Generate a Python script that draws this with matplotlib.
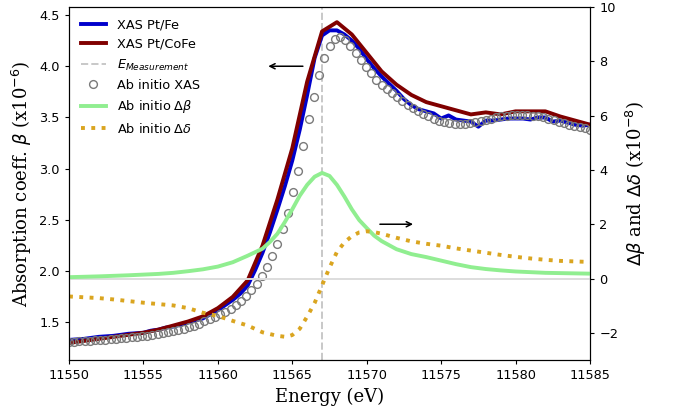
import matplotlib
matplotlib.use("Agg")
import matplotlib.pyplot as plt
import numpy as np

# ---------------- data ----------------
e_meas = 11567.0

fe_energy = [11550, 11551, 11552, 11553, 11554, 11555, 11555.5, 11556, 11556.5, 11557,
             11557.5, 11558, 11558.5, 11559, 11559.5, 11560, 11560.5, 11561, 11561.5, 11562,
             11562.5, 11563, 11563.5, 11564, 11564.5, 11565, 11565.5, 11566, 11566.5, 11567,
             11567.5, 11568, 11568.5, 11569, 11569.5, 11570, 11570.5, 11571, 11571.5, 11572,
             11572.5, 11573, 11573.5, 11574, 11574.5, 11575, 11575.5, 11576, 11576.5, 11577,
             11577.5, 11578, 11578.5, 11579, 11579.5, 11580, 11580.5, 11581, 11581.5, 11582,
             11582.5, 11583, 11583.5, 11584, 11584.5, 11585]
fe_beta = [1.33, 1.34, 1.36, 1.37, 1.39, 1.40, 1.42, 1.43, 1.45, 1.46,
           1.48, 1.50, 1.52, 1.54, 1.58, 1.62, 1.67, 1.72, 1.78, 1.86,
           2.01, 2.18, 2.38, 2.60, 2.83, 3.08, 3.38, 3.72, 4.08, 4.30,
           4.35, 4.35, 4.31, 4.25, 4.17, 4.07, 3.98, 3.90, 3.83, 3.76,
           3.68, 3.62, 3.58, 3.56, 3.54, 3.49, 3.52, 3.48, 3.47, 3.46,
           3.41, 3.47, 3.47, 3.48, 3.49, 3.49, 3.49, 3.48, 3.50, 3.50,
           3.46, 3.47, 3.45, 3.43, 3.42, 3.43]

cofe_energy = [11550, 11551, 11552, 11553, 11554, 11555, 11556, 11557, 11558, 11559,
               11560, 11561, 11562, 11563, 11564, 11565, 11566, 11567, 11568, 11569,
               11570, 11571, 11572, 11573, 11574, 11575, 11576, 11577, 11578, 11579,
               11580, 11581, 11582, 11583, 11584, 11585]
cofe_beta = [1.30, 1.32, 1.34, 1.36, 1.38, 1.40, 1.43, 1.47, 1.51, 1.56,
             1.64, 1.75, 1.91, 2.25, 2.70, 3.20, 3.85, 4.34, 4.43, 4.31,
             4.13, 3.95, 3.82, 3.72, 3.65, 3.61, 3.57, 3.53, 3.55, 3.53,
             3.56, 3.56, 3.56, 3.51, 3.47, 3.43]

abin_energy = [11550.00, 11550.35, 11550.70, 11551.05, 11551.40, 11551.75, 11552.10, 11552.45,
               11552.80, 11553.15, 11553.50, 11553.85, 11554.20, 11554.55, 11554.90, 11555.25,
               11555.60, 11555.95, 11556.30, 11556.65, 11557.00, 11557.35, 11557.70, 11558.05,
               11558.40, 11558.75, 11559.10, 11559.45, 11559.80, 11560.15, 11560.50, 11560.85,
               11561.20, 11561.55, 11561.90, 11562.25, 11562.60, 11562.95, 11563.30, 11563.65,
               11564.00, 11564.35, 11564.70, 11565.05, 11565.40, 11565.75, 11566.10, 11566.45,
               11566.80, 11567.15, 11567.50, 11567.85, 11568.20, 11568.55, 11568.90, 11569.25,
               11569.60, 11569.95, 11570.30, 11570.65, 11571.00, 11571.35, 11571.70, 11572.05,
               11572.40, 11572.75, 11573.10, 11573.45, 11573.80, 11574.15, 11574.50, 11574.85,
               11575.20, 11575.55, 11575.90, 11576.25, 11576.60, 11576.95, 11577.30, 11577.65,
               11578.00, 11578.35, 11578.70, 11579.05, 11579.40, 11579.75, 11580.10, 11580.45,
               11580.80, 11581.15, 11581.50, 11581.85, 11582.20, 11582.55, 11582.90, 11583.25,
               11583.60, 11583.95, 11584.30, 11584.65, 11585.00]
abin_beta = [1.31, 1.31, 1.32, 1.32, 1.32, 1.33, 1.33, 1.33,
             1.34, 1.34, 1.35, 1.35, 1.36, 1.36, 1.37, 1.37,
             1.38, 1.39, 1.40, 1.41, 1.42, 1.43, 1.44, 1.46,
             1.47, 1.49, 1.51, 1.53, 1.55, 1.58, 1.60, 1.63,
             1.67, 1.71, 1.76, 1.82, 1.88, 1.95, 2.04, 2.15,
             2.27, 2.41, 2.57, 2.77, 2.98, 3.22, 3.49, 3.70,
             3.91, 4.08, 4.20, 4.27, 4.29, 4.26, 4.20, 4.13,
             4.06, 3.99, 3.93, 3.87, 3.82, 3.78, 3.74, 3.70,
             3.66, 3.62, 3.59, 3.56, 3.53, 3.51, 3.49, 3.47,
             3.46, 3.45, 3.44, 3.44, 3.44, 3.45, 3.46, 3.47,
             3.48, 3.49, 3.50, 3.51, 3.51, 3.52, 3.52, 3.52,
             3.52, 3.51, 3.51, 3.50, 3.49, 3.48, 3.46, 3.45,
             3.43, 3.42, 3.41, 3.40, 3.38]

dbeta_energy = [11550, 11552, 11554, 11556, 11557, 11558, 11559, 11560, 11561, 11562,
                11563, 11563.5, 11564, 11564.5, 11565, 11565.5, 11566, 11566.5, 11567, 11567.5,
                11568, 11568.5, 11569, 11569.5, 11570, 11570.5, 11571, 11572, 11573, 11574,
                11575, 11576, 11577, 11578, 11579, 11580, 11582, 11585]
dbeta = [0.05, 0.08, 0.12, 0.17, 0.21, 0.27, 0.34, 0.44, 0.60, 0.84,
         1.10, 1.35, 1.65, 2.08, 2.55, 3.05, 3.45, 3.75, 3.89, 3.78,
         3.45, 3.02, 2.55, 2.15, 1.86, 1.58, 1.38, 1.08, 0.90, 0.79,
         0.66, 0.53, 0.42, 0.35, 0.30, 0.26, 0.21, 0.18]

ddelta_energy = [11550, 11551, 11552, 11553, 11554, 11555, 11556, 11557, 11558, 11559,
                 11560, 11561, 11562, 11563, 11564, 11564.6, 11565, 11565.5, 11566, 11566.5,
                 11567, 11567.5, 11568, 11568.5, 11569, 11569.5, 11570, 11570.5, 11571, 11572,
                 11573, 11574, 11575, 11576, 11577, 11578, 11579, 11580, 11581, 11582,
                 11583, 11584, 11585]
ddelta = [-0.66, -0.69, -0.72, -0.77, -0.83, -0.89, -0.94, -0.99, -1.09, -1.26,
          -1.38, -1.56, -1.73, -1.98, -2.11, -2.15, -2.08, -1.85, -1.40, -0.90,
          -0.25, 0.40, 0.98, 1.33, 1.56, 1.70, 1.74, 1.71, 1.65, 1.50,
          1.37, 1.28, 1.21, 1.11, 1.03, 0.95, 0.87, 0.80, 0.74, 0.69,
          0.65, 0.63, 0.61]

# ---------------- figure ----------------
fs = 9.25
plt.rcParams['font.size'] = fs
fig = plt.figure(figsize=(6.78, 4.15), dpi=100)
ax = fig.add_axes([69 / 678, 1 - 360 / 415, (590 - 69) / 678, (360 - 7) / 415])
ax2 = ax.twinx()

l1, = ax.plot(fe_energy, fe_beta, color='#0000cc', lw=2.8, label='XAS Pt/Fe', zorder=3)
l2, = ax.plot(cofe_energy, cofe_beta, color='#800000', lw=2.8, label='XAS Pt/CoFe', zorder=3)
l3 = ax.axvline(e_meas, color='#c8c8c8', ls='--', lw=1.4, label=r'$E_{Measurement}$', zorder=1)
l4, = ax.plot(abin_energy, abin_beta, ls='none', marker='o', ms=5.6, mfc='none', mec='#7a7a7a',
              mew=1.0, label='Ab initio XAS', zorder=4)

ax2.axhline(0, color='#dddddd', lw=1.4, zorder=0)
l5, = ax2.plot(dbeta_energy, dbeta, color='#90ee90', lw=2.8, label=r'Ab initio $\Delta\beta$')
l6, = ax2.plot(ddelta_energy, ddelta, color='#daa520', lw=2.8, ls=':', label=r'Ab initio $\Delta\delta$')

ax.set_xlim(11550, 11585)
ax.set_ylim(1.134, 4.578)
ax2.set_ylim(-3, 10)
ax.set_xticks([11550, 11555, 11560, 11565, 11570, 11575, 11580, 11585])
ax.set_yticks([1.5, 2.0, 2.5, 3.0, 3.5, 4.0, 4.5])
ax2.set_yticks([-2, 0, 2, 4, 6, 8, 10])
for a in (ax, ax2):
    a.tick_params(labelsize=fs, length=3.2, width=0.8)

ax.set_xlabel('Energy (eV)', family='DejaVu Serif', fontsize=13)
ax.set_ylabel(r'Absorption coeff. $\beta$ (x10$^{-6}$)', family='DejaVu Serif', fontsize=13)
ax2.set_ylabel(r'$\Delta\beta$ and $\Delta\delta$ (x10$^{-8}$)', family='DejaVu Serif', fontsize=13)

ax.annotate('', xy=(11563.2, 4.0), xytext=(11565.9, 4.0),
            arrowprops=dict(arrowstyle='->', color='black', lw=1.1))
ax2.annotate('', xy=(11573.3, 2.0), xytext=(11570.7, 2.0),
             arrowprops=dict(arrowstyle='->', color='black', lw=1.1))

ax2.legend(handles=[l1, l2, l3, l4, l5, l6], loc='upper left', frameon=False, fontsize=fs)

fig.savefig('out.png', dpi=100)
